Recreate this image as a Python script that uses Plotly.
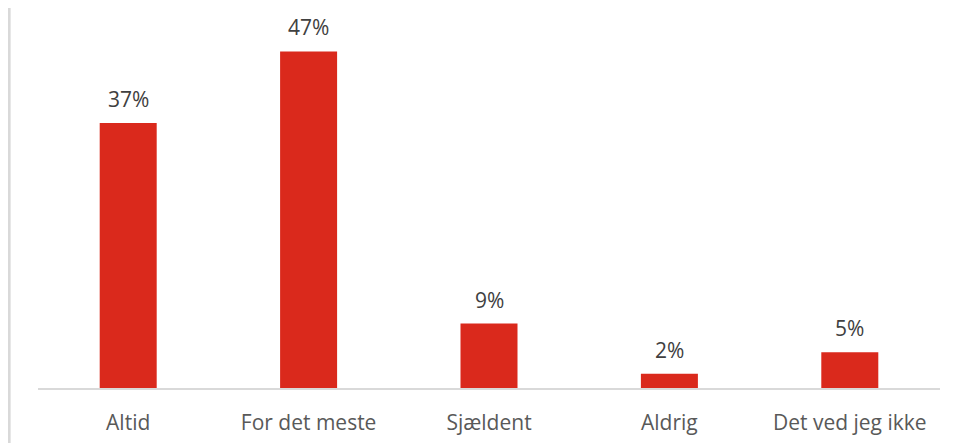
import plotly.graph_objects as go

# svarkategorier og andele (%)
kategorier = ["Altid", "For det meste", "Sjældent", "Aldrig", "Det ved jeg ikke"]
andele = [37, 47, 9, 2, 5]
etiketter = ["37%", "47%", "9%", "2%", "5%"]

fig = go.Figure()
fig.add_trace(go.Bar(x=kategorier, y=andele,
                     marker=dict(color="#DA291C", line=dict(width=0))))

# procent over søjlerne
for k, v, t in zip(kategorier, andele, etiketter):
    fig.add_annotation(x=k, y=v, text=t, showarrow=False,
                       yanchor="bottom", yshift=8,
                       font=dict(color="#404040", size=21,
                                 family="Open Sans"))

fig.update_layout(width=949, height=435, bargap=0.684,
                  plot_bgcolor="white", paper_bgcolor="white",
                  showlegend=False,
                  margin=dict(l=30, r=17, t=22, b=55),
                  font=dict(family="Open Sans", color="#595959", size=21))

fig.update_xaxes(showline=True, linecolor="#d9d9d9", linewidth=2,
                 ticks="", ticklabelstandoff=15, automargin=False,
                 tickfont=dict(size=21, color="#595959"))
fig.update_yaxes(range=[0, 50], visible=False, showgrid=False)

# grå kant i venstre side
fig.add_shape(type="line", xref="paper", yref="paper",
              x0=-0.032, x1=-0.032, y0=-0.2, y1=1.1,
              line=dict(color="#d9d9d9", width=3))

fig.write_html("out.html")
